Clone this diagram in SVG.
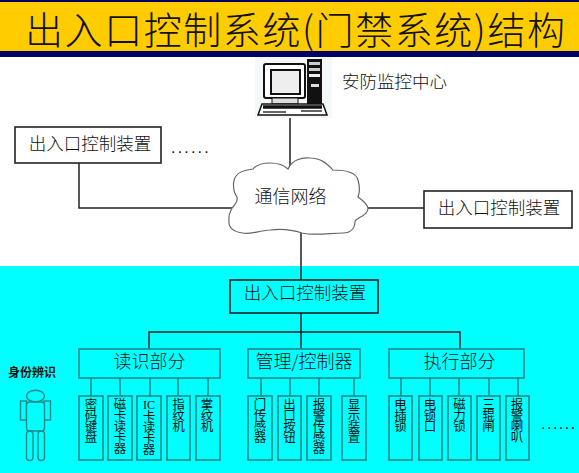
<svg xmlns="http://www.w3.org/2000/svg" width="579" height="473" viewBox="0 0 579 473">
<style>
text{font-family:"Noto Sans CJK SC","Liberation Serif",sans-serif;font-weight:300;fill:#111}
.t18{font-size:18px;text-anchor:middle}
.t17{font-size:17.5px;text-anchor:middle}
.v{font-size:12.5px;font-weight:400;writing-mode:vertical-rl;letter-spacing:-1.5px}
.box{fill:#fff;stroke:#222;stroke-width:1.6}
.gb{fill:#00ffff;stroke:#1f8a8a;stroke-width:1.6}
.ln{stroke:#222;stroke-width:1.5;fill:none}
.tl{stroke:#1f8a8a;stroke-width:1.6;fill:none}
.dots{font-family:"Liberation Sans",sans-serif;font-size:16px;letter-spacing:2.200px}
</style>
<rect id="page" width="579" height="473" fill="#fff"/>
<g id="title">
<rect width="579" height="57" fill="#000066"/>
<rect y="2" width="579" height="49" fill="#ffcc00"/>
<text x="25" y="44" font-size="38" textLength="540" lengthAdjust="spacing">出入口控制系统(门禁系统)结构</text>
</g>
<rect id="cyan-zone" y="266" width="579" height="207" fill="#00ffff"/>
<g id="connectors">
<path class="ln" d="M290 115V170M79 162V208H232M367 208H424M301 233V281M301 313V332M149 349V332H460V349M301 332V349"/>
<path class="tl" d="M91 378V396M120 378V396M150 378V396M178 378V396M208 378V396M261 378V396M290 378V396M319 378V396M354 378V396M401 378V396M430 378V396M459 378V396M489 378V396M518 378V396"/>
</g>
<g id="monitor-center">
<rect x="255" y="57" width="77" height="61" fill="#f4f8f8"/>
<rect x="264" y="64" width="41" height="34" rx="2" fill="#fff" stroke="#111" stroke-width="2"/>
<rect x="271" y="70" width="29" height="24" fill="#eee" stroke="#111" stroke-width="2"/>
<rect x="272" y="98" width="26" height="6" fill="#ddd" stroke="#111"/>
<rect x="307" y="59" width="15" height="46" fill="#111"/>
<rect x="309" y="62" width="11" height="3" fill="#ccc"/><rect x="309" y="68" width="11" height="3" fill="#ccc"/><rect x="309" y="74" width="11" height="3" fill="#eee"/><rect x="311" y="84" width="8" height="3" fill="#ddd"/>
<path d="M262 104H323L327 115H258Z" fill="#fff" stroke="#111" stroke-width="1.5"/>
<path d="M263 107H322" stroke="#111" stroke-width="3.500"/>
<path d="M263 112H286M301 111H322" stroke="#333" stroke-width="1.5"/>
<text x="342" y="87.500" font-size="17.500">安防监控中心</text>
</g>
<g id="cloud">
<path fill="#fff" stroke="#666" stroke-width="1.2" d="M288 169C292 160 302 157 310 158C322 158 328 165 333 170C345 170 356 172 358 180C360 187 360 192 358 197C362 200 368 204 368 209C367 216 358 217 355 221C355 228 351 233 343 233C330 233 315 236 302 233C296 231 285 228 270 230C258 231 248 235 243 233C234 232 228 228 229 220C228 214 231 211 232 208C236 204 238 201 237 197C232 190 233 180 236 176C240 170 248 170 253 169C257 164 265 163 270 163C278 163 284 165 288 169Z"/>
<text class="t18" x="290.500" y="203">通信网络</text>
</g>
<g id="device-left"><rect class="box" x="15" y="127" width="146" height="36"/><text class="t17" x="90" y="150">出入口控制装置</text></g>
<text class="dots" x="171" y="153">......</text>
<g id="device-right"><rect class="box" x="424" y="191" width="148" height="37"/><text class="t17" x="499" y="214">出入口控制装置</text></g>
<g id="device-main"><rect x="230" y="280" width="148" height="33" fill="#00ffff" stroke="#222" stroke-width="1.6"/><text class="t17" x="305" y="299">出入口控制装置</text></g>
<g id="group-read"><rect class="gb" x="79" y="349" width="141" height="29"/><text class="t18" x="149.500" y="368">读识部分</text></g>
<g id="group-ctrl"><rect class="gb" x="248" y="349" width="112" height="29"/><text class="t18" x="304" y="368">管理/控制器</text></g>
<g id="group-exec"><rect class="gb" x="389" y="349" width="135" height="29"/><text class="t18" x="459.500" y="368">执行部分</text></g>
<g id="r1"><rect class="gb" x="79" y="396" width="24" height="64"/><text class="v" x="91" y="398">密码键盘</text></g>
<g id="r2"><rect class="gb" x="108" y="396" width="24" height="64"/><text class="v" x="120" y="398">磁卡读卡器</text></g>
<g id="r3"><rect class="gb" x="137" y="396" width="24" height="64"/><text x="149" y="409" font-size="12" text-anchor="middle" style="font-family:'Liberation Serif',serif">IC</text><text class="v" x="149" y="410">卡读卡器</text></g>
<g id="r4"><rect class="gb" x="167" y="396" width="23" height="64"/><text class="v" x="178.500" y="398">指纹机</text></g>
<g id="r5"><rect class="gb" x="196" y="396" width="24" height="64"/><text class="v" x="207" y="398">掌纹机</text></g>
<g id="c1"><rect class="gb" x="248" y="396" width="24" height="64"/><text class="v" x="260" y="398">门传感器</text></g>
<g id="c2"><rect class="gb" x="278" y="396" width="23" height="64"/><text class="v" x="289.500" y="398">出口按钮</text></g>
<g id="c3"><rect class="gb" x="307" y="396" width="24" height="64"/><text class="v" x="319" y="398">报警传感器</text></g>
<g id="c4"><rect class="gb" x="342" y="396" width="24" height="64"/><text class="v" x="354" y="398">显示装置</text></g>
<g id="e1"><rect class="gb" x="389" y="396" width="23" height="64"/><text class="v" x="400.500" y="398">电插锁</text></g>
<g id="e2"><rect class="gb" x="419" y="396" width="23" height="64"/><text class="v" x="430" y="398">电锁口</text></g>
<g id="e3"><rect class="gb" x="448" y="396" width="23" height="64"/><text class="v" x="459.500" y="398">磁力锁</text></g>
<g id="e4"><rect class="gb" x="477" y="396" width="23" height="64"/><text class="v" x="488.500" y="398">三辊闸</text></g>
<g id="e5"><rect class="gb" x="506" y="396" width="23" height="64"/><text class="v" x="517" y="398">报警喇叭</text></g>
<text class="dots" x="541" y="429" style="letter-spacing:1.500px">......</text>
<g id="person">
<text x="32" y="377" font-size="12" text-anchor="middle" style="font-weight:700">身份辨识</text>
<g fill="#00ffff" stroke="#1f8a8a" stroke-width="1.4">
<rect x="20.500" y="401" width="6" height="19"/><rect x="44" y="401" width="6.500" height="19"/>
<rect x="26.500" y="402" width="18" height="29" rx="3"/>
<rect x="26.500" y="431" width="6.500" height="29.500" rx="3.200"/><rect x="38" y="431" width="6.500" height="29.500" rx="3.200"/>
<ellipse cx="35.500" cy="396" rx="9" ry="5.800"/>
</g>
</g>
</svg>
